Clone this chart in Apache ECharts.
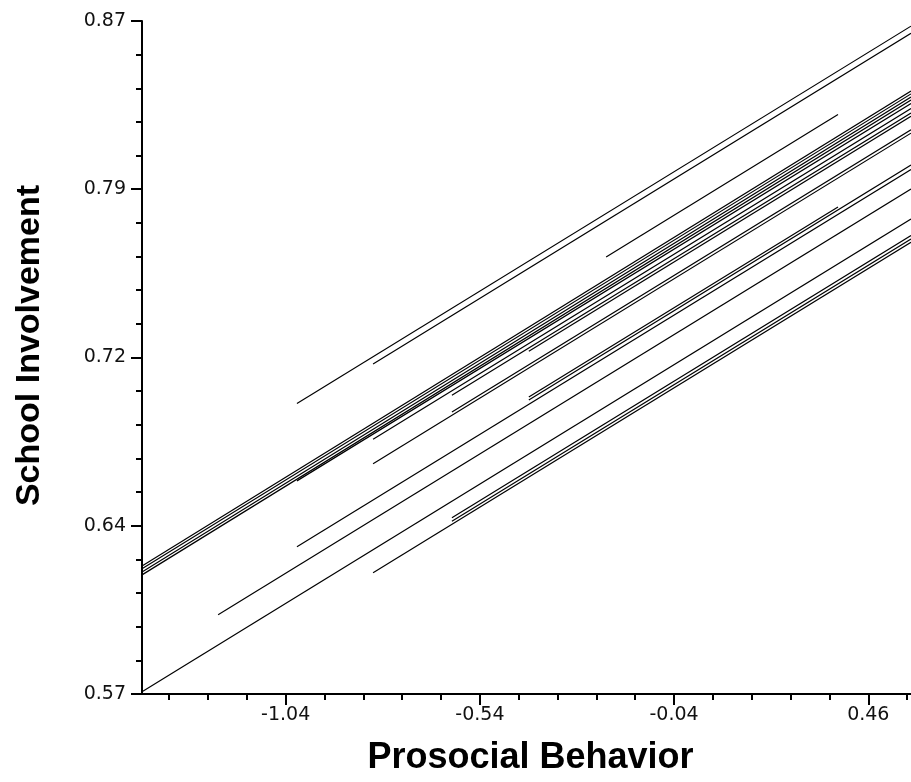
<!DOCTYPE html>
<html>
<head>
<meta charset="utf-8">
<script src="https://cdn.jsdelivr.net/npm/echarts@6/dist/echarts.min.js"></script>
<style>
html, body { margin: 0; padding: 0; background: #fff; }
#container { width: 911px; height: 782px; }
</style>
</head>
<body>
<div id="container"></div>
<script>
// tick positions and labels
var xMajorTicks = [-1.04, -0.54, -0.04, 0.46];
var xTickLabels = ['-1.04', '-0.54', '-0.04', '0.46'];
var xMinorTicks = [-1.34, -1.24, -1.14, -0.94, -0.84, -0.74, -0.64, -0.44, -0.34, -0.24, -0.14, 0.06, 0.16, 0.26, 0.36, 0.56];
var yMajorTicks = [0.57, 0.645, 0.72, 0.795, 0.87];
var yTickLabels = ['0.57', '0.64', '0.72', '0.79', '0.87'];
var yMinorTicks = [0.585, 0.6, 0.615, 0.63, 0.66, 0.675, 0.69, 0.705, 0.735, 0.75, 0.765, 0.78, 0.81, 0.825, 0.84, 0.855];

// one entry per group line (start point -> end point)
var startX = [-1.41, -1.214, -1.011, -0.815, -0.815, -0.612, -0.612, -0.612, -0.414, -0.414, -0.215, -1.011, -0.815,
              -1.41, -1.41, -1.41, -1.41, -1.011, -0.815, -0.612, -0.414];
var startY = [0.571, 0.6053, 0.6356, 0.6726, 0.6240, 0.6470, 0.6486, 0.6957, 0.7024, 0.7011, 0.7648, 0.6995, 0.7171,
              0.6271, 0.6258, 0.6244, 0.6231, 0.665, 0.6836, 0.7032, 0.7228];
var endX = [0.57, 0.57, 0.57, 0.57, 0.57, 0.57, 0.57, 0.57, 0.382, 0.57, 0.382, 0.57, 0.57,
            0.57, 0.57, 0.57, 0.57, 0.57, 0.57, 0.57, 0.57];
var endY = [0.7817, 0.7951, 0.8038, 0.82, 0.7714, 0.7728, 0.7744, 0.8215, 0.7871, 0.8058, 0.8283, 0.8677, 0.8645,
            0.8388, 0.8375, 0.8361, 0.8348, 0.8332, 0.831, 0.829, 0.8275];

var dom = document.getElementById('container');
var myChart = echarts.init(dom, null, { renderer: 'canvas' });

var seriesList = [];
for (var i = 0; i < startX.length; i++) {
    seriesList.push({
        type: 'line',
        data: [[startX[i], startY[i]], [endX[i], endY[i]]],
        symbol: 'none',
        silent: true,
        lineStyle: { color: '#000', width: 1.2 }
    });
}

function labelFor(v, values, labels) {
    for (var k = 0; k < values.length; k++) {
        if (Math.abs(values[k] - v) < 1e-6) return labels[k];
    }
    return '';
}

var labelFont = { fontFamily: 'DejaVu Sans', fontSize: 19, color: '#111' };
var nameFont = { fontFamily: 'Liberation Sans', fontSize: 36, fontWeight: 'bold', color: '#000' };

var option = {
    animation: false,
    backgroundColor: '#fff',
    grid: { left: 142, right: 0, top: 21, bottom: 88 },
    xAxis: [
        {
            type: 'value',
            min: -1.41,
            max: 0.57,
            position: 'bottom',
            name: 'Prosocial Behavior',
            nameLocation: 'middle',
            nameGap: 46,
            nameTextStyle: Object.assign({}, nameFont, { padding: [0, 0, 0, 8] }),
            axisLine: { show: true, onZero: false, lineStyle: { color: '#000', width: 2 } },
            axisTick: { show: true, customValues: xMajorTicks, length: 11, lineStyle: { color: '#000', width: 2 } },
            axisLabel: Object.assign({
                customValues: xMajorTicks,
                margin: 12,
                formatter: function (v) { return labelFor(v, xMajorTicks, xTickLabels); }
            }, labelFont),
            splitLine: { show: false }
        },
        {
            type: 'value',
            min: -1.41,
            max: 0.57,
            position: 'bottom',
            axisLine: { show: false, onZero: false },
            axisTick: { show: true, customValues: xMinorTicks, length: 6, lineStyle: { color: '#000', width: 2 } },
            axisLabel: { show: false },
            splitLine: { show: false }
        }
    ],
    yAxis: [
        {
            type: 'value',
            min: 0.57,
            max: 0.87,
            position: 'left',
            name: 'School Involvement',
            nameLocation: 'middle',
            nameGap: 95,
            nameTextStyle: Object.assign({}, nameFont, { fontSize: 34, padding: [0, 0, 0, 24] }),
            axisLine: { show: true, onZero: false, lineStyle: { color: '#000', width: 2 } },
            axisTick: { show: true, customValues: yMajorTicks, length: 11, lineStyle: { color: '#000', width: 2 } },
            axisLabel: Object.assign({
                customValues: yMajorTicks,
                margin: 16,
                formatter: function (v) { return labelFor(v, yMajorTicks, yTickLabels); }
            }, labelFont),
            splitLine: { show: false }
        },
        {
            type: 'value',
            min: 0.57,
            max: 0.87,
            position: 'left',
            axisLine: { show: false, onZero: false },
            axisTick: { show: true, customValues: yMinorTicks, length: 6, lineStyle: { color: '#000', width: 2 } },
            axisLabel: { show: false },
            splitLine: { show: false }
        }
    ],
    series: seriesList
};

if (option && typeof option === 'object') {
    myChart.setOption(option);
}
</script>
</body>
</html>
